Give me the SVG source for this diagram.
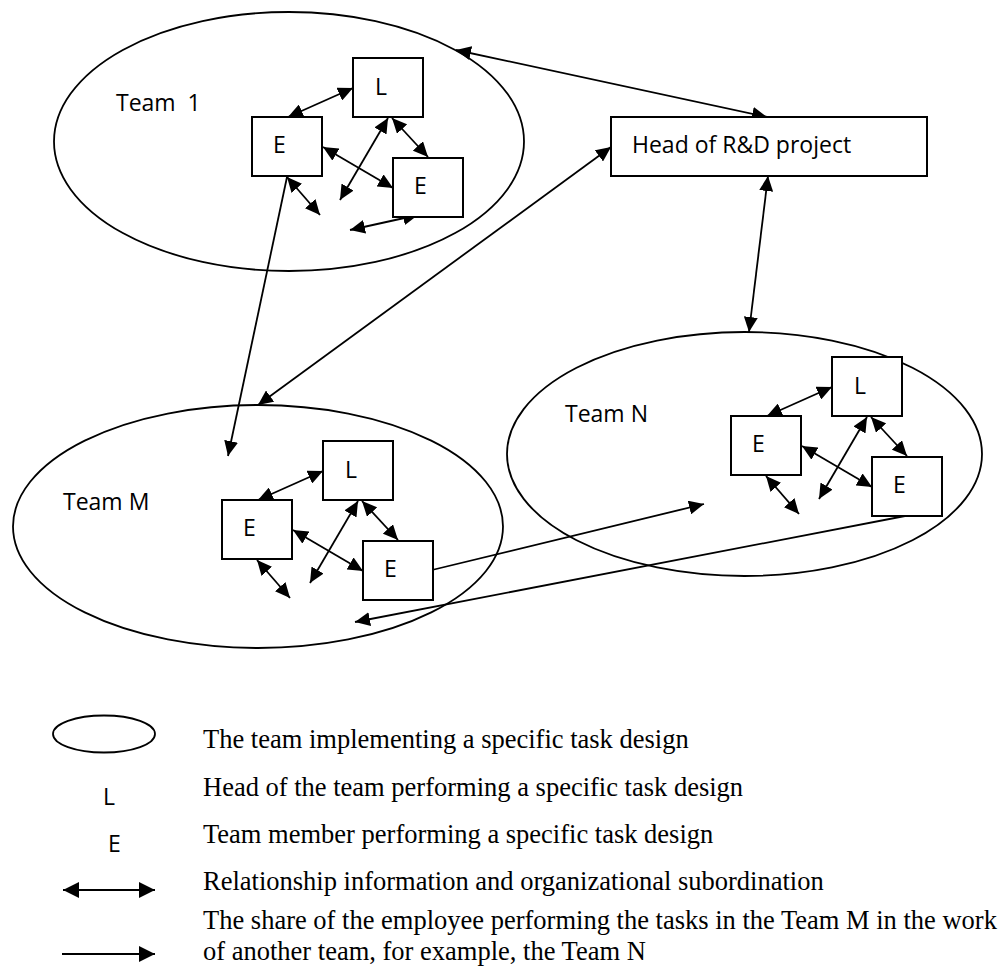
<svg xmlns="http://www.w3.org/2000/svg" width="1005" height="968" viewBox="0 0 1005 968">
<style>
.ell{fill:none;stroke:#000;stroke-width:1.8}
.box{fill:#fff;stroke:#000;stroke-width:2}
.lbl{font-family:"Open Sans","Liberation Sans",sans-serif;font-size:23px;fill:#000;white-space:pre}
.leg{font-family:"Liberation Serif","Times New Roman",serif;font-size:26.5px;fill:#000}
.c{fill:none;stroke:#000;stroke-width:1.8}
.d{marker-start:url(#ah);marker-end:url(#ah)}
.s{marker-end:url(#ah)}
</style>
<defs>
<marker id="ah" markerUnits="userSpaceOnUse" markerWidth="16" markerHeight="14" refX="15" refY="7" orient="auto-start-reverse">
<path d="M0,0 L15,7 L0,14 z" fill="#000"/>
</marker>
<marker id="ahL" markerUnits="userSpaceOnUse" markerWidth="17" markerHeight="16" refX="16" refY="8" orient="auto-start-reverse">
<path d="M0,0 L16,8 L0,16 z" fill="#000"/>
</marker>
</defs>
<rect width="1005" height="968" fill="#fff"/>

<g id="team1">
<ellipse class="ell" cx="289" cy="141.5" rx="235" ry="129.5"/>
<text class="lbl" x="116" y="111" xml:space="preserve">Team  1</text>
</g>
<g id="teamM">
<ellipse class="ell" cx="258" cy="526.5" rx="245" ry="121.5"/>
<text class="lbl" x="63" y="510">Team M</text>
</g>
<g id="teamN">
<ellipse class="ell" cx="744.5" cy="454" rx="237.5" ry="122"/>
<text class="lbl" x="565" y="422">Team N</text>
</g>

<g id="connectors">
<!-- Team 1 internal -->
<line class="c d" x1="288" y1="117" x2="353" y2="88"/>
<line class="c d" x1="388" y1="118" x2="340" y2="200"/>
<line class="c d" x1="392" y1="118" x2="428" y2="157"/>
<line class="c d" x1="323" y1="147" x2="393" y2="188"/>
<line class="c d" x1="287" y1="177" x2="320" y2="215"/>
<line class="c d" x1="350" y1="230" x2="418" y2="215"/>
<!-- Team M internal -->
<line class="c d" x1="258" y1="500" x2="323" y2="471"/>
<line class="c d" x1="358" y1="501" x2="310" y2="583"/>
<line class="c d" x1="362" y1="501" x2="398" y2="540"/>
<line class="c d" x1="293" y1="530" x2="363" y2="571"/>
<line class="c d" x1="257" y1="560" x2="290" y2="598"/>
<!-- Team N internal -->
<line class="c d" x1="767" y1="416" x2="832" y2="387"/>
<line class="c d" x1="867" y1="417" x2="819" y2="499"/>
<line class="c d" x1="871" y1="417" x2="907" y2="456"/>
<line class="c d" x1="802" y1="446" x2="872" y2="487"/>
<line class="c d" x1="766" y1="476" x2="799" y2="514"/>
<!-- inter-team -->
<line class="c s" x1="287" y1="177" x2="228" y2="456"/>
<line class="c d" x1="767" y1="117" x2="456" y2="50"/>
<line class="c d" x1="611" y1="147" x2="258" y2="405"/>
<line class="c d" x1="768" y1="176" x2="749" y2="332"/>
<line class="c s" x1="432" y1="570" x2="704" y2="504"/>
<line class="c s" x1="905" y1="516" x2="355" y2="622"/>
</g>

<g id="head">
<rect class="box" x="611" y="117" width="316" height="59"/>
<text class="lbl" x="632" y="153">Head of R&amp;D project</text>
</g>

<g id="t1-L"><rect class="box" x="353" y="58" width="70" height="59"/><text class="lbl" x="375" y="95">L</text></g>
<g id="t1-E1"><rect class="box" x="252" y="117" width="70" height="59"/><text class="lbl" x="273" y="153">E</text></g>
<g id="t1-E2"><rect class="box" x="393" y="158" width="70" height="59"/><text class="lbl" x="414" y="194">E</text></g>

<g id="tM-L"><rect class="box" x="323" y="441" width="70" height="59"/><text class="lbl" x="345" y="478">L</text></g>
<g id="tM-E1"><rect class="box" x="222" y="500" width="70" height="59"/><text class="lbl" x="243" y="536">E</text></g>
<g id="tM-E2"><rect class="box" x="363" y="541" width="70" height="59"/><text class="lbl" x="384" y="577">E</text></g>

<g id="tN-L"><rect class="box" x="832" y="357" width="70" height="59"/><text class="lbl" x="854" y="394">L</text></g>
<g id="tN-E1"><rect class="box" x="731" y="416" width="70" height="59"/><text class="lbl" x="752" y="452">E</text></g>
<g id="tN-E2"><rect class="box" x="872" y="457" width="70" height="59"/><text class="lbl" x="893" y="493">E</text></g>

<g id="legend">
<ellipse class="ell" cx="104" cy="734" rx="51" ry="18.5"/>
<text class="lbl" x="103" y="805">L</text>
<text class="lbl" x="108" y="852">E</text>
<line x1="63" y1="890" x2="155" y2="890" stroke="#000" stroke-width="2" marker-start="url(#ahL)" marker-end="url(#ahL)"/>
<line x1="62" y1="954" x2="155" y2="954" stroke="#000" stroke-width="2" marker-end="url(#ahL)"/>
<text class="leg" x="203" y="748">The team implementing a specific task design</text>
<text class="leg" x="203" y="796">Head of the team performing a specific task design</text>
<text class="leg" x="203" y="843">Team member performing a specific task design</text>
<text class="leg" x="203" y="890">Relationship information and organizational subordination</text>
<text class="leg" x="203" y="929">The share of the employee performing the tasks in the Team M in the work</text>
<text class="leg" x="203" y="960">of another team, for example, the Team N</text>
</g>
</svg>
